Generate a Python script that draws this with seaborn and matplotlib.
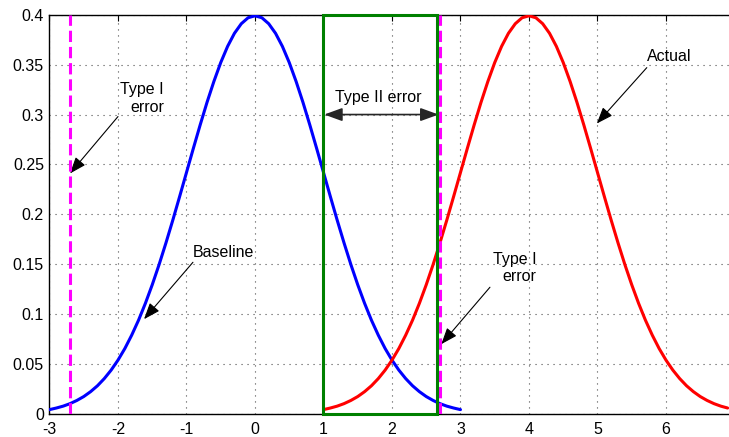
import matplotlib
matplotlib.use("Agg")
import matplotlib.pyplot as plt
from matplotlib.patches import Rectangle
import pandas as pd
import seaborn as sns

# --- data ---
baseline_x = [-3.0, -2.9, -2.8, -2.7, -2.6, -2.5, -2.4, -2.3, -2.2, -2.1,
              -2.0, -1.9, -1.8, -1.7, -1.6, -1.5, -1.4, -1.3, -1.2, -1.1,
              -1.0, -0.9, -0.8, -0.7, -0.6, -0.5, -0.4, -0.3, -0.2, -0.1,
              0.0, 0.1, 0.2, 0.3, 0.4, 0.5, 0.6, 0.7, 0.8, 0.9,
              1.0, 1.1, 1.2, 1.3, 1.4, 1.5, 1.6, 1.7, 1.8, 1.9,
              2.0, 2.1, 2.2, 2.3, 2.4, 2.5, 2.6, 2.7, 2.8, 2.9, 3.0]
baseline_y = [0.0044, 0.0060, 0.0079, 0.0104, 0.0136, 0.0175, 0.0224, 0.0283, 0.0355, 0.0440,
              0.0540, 0.0656, 0.0790, 0.0940, 0.1109, 0.1295, 0.1497, 0.1714, 0.1942, 0.2179,
              0.2420, 0.2661, 0.2897, 0.3123, 0.3332, 0.3521, 0.3683, 0.3814, 0.3910, 0.3970,
              0.3989, 0.3970, 0.3910, 0.3814, 0.3683, 0.3521, 0.3332, 0.3123, 0.2897, 0.2661,
              0.2420, 0.2179, 0.1942, 0.1714, 0.1497, 0.1295, 0.1109, 0.0940, 0.0790, 0.0656,
              0.0540, 0.0440, 0.0355, 0.0283, 0.0224, 0.0175, 0.0136, 0.0104, 0.0079, 0.0060, 0.0044]

actual_x = [1.0, 1.1, 1.2, 1.3, 1.4, 1.5, 1.6, 1.7, 1.8, 1.9,
            2.0, 2.1, 2.2, 2.3, 2.4, 2.5, 2.6, 2.7, 2.8, 2.9,
            3.0, 3.1, 3.2, 3.3, 3.4, 3.5, 3.6, 3.7, 3.8, 3.9,
            4.0, 4.1, 4.2, 4.3, 4.4, 4.5, 4.6, 4.7, 4.8, 4.9,
            5.0, 5.1, 5.2, 5.3, 5.4, 5.5, 5.6, 5.7, 5.8, 5.9,
            6.0, 6.1, 6.2, 6.3, 6.4, 6.5, 6.6, 6.7, 6.8, 6.9]
actual_y = [0.0044, 0.0060, 0.0079, 0.0104, 0.0136, 0.0175, 0.0224, 0.0283, 0.0355, 0.0440,
            0.0540, 0.0656, 0.0790, 0.0940, 0.1109, 0.1295, 0.1497, 0.1714, 0.1942, 0.2179,
            0.2420, 0.2661, 0.2897, 0.3123, 0.3332, 0.3521, 0.3683, 0.3814, 0.3910, 0.3970,
            0.3989, 0.3970, 0.3910, 0.3814, 0.3683, 0.3521, 0.3332, 0.3123, 0.2897, 0.2661,
            0.2420, 0.2179, 0.1942, 0.1714, 0.1497, 0.1295, 0.1109, 0.0940, 0.0790, 0.0656,
            0.0540, 0.0440, 0.0355, 0.0283, 0.0224, 0.0175, 0.0136, 0.0104, 0.0079, 0.0060]

thresholds = [-2.7, 2.7]          # type I error cut-offs (dashed magenta)
box_left, box_right = 1.0, 2.66   # type II error region
box_top = 0.4

x_ticks = [-3, -2, -1, 0, 1, 2, 3, 4, 5, 6]
y_ticks = [0, 0.05, 0.1, 0.15, 0.2, 0.25, 0.3, 0.35, 0.4]
y_tick_labels = ["0", "0.05", "0.1", "0.15", "0.2", "0.25", "0.3", "0.35", "0.4"]

# --- style ---
sns.set_style("white")
plt.rcParams['font.family'] = ['Liberation Sans', 'DejaVu Sans']
plt.rcParams['axes.unicode_minus'] = False
plt.rcParams['text.color'] = 'black'
FS = 11.5

fig = plt.figure(figsize=(7.29, 4.37), dpi=100)
ax = fig.add_axes([0.0679, 0.0526, 0.9321, 0.9137])

df_base = pd.DataFrame({"x": baseline_x, "y": baseline_y})
df_act = pd.DataFrame({"x": actual_x, "y": actual_y})

sns.lineplot(data=df_base, x="x", y="y", color="blue", lw=2.2,
             sort=False, estimator=None, ax=ax, zorder=3)
sns.lineplot(data=df_act, x="x", y="y", color="red", lw=2.2,
             sort=False, estimator=None, ax=ax, zorder=3)

for t in thresholds:
    ax.axvline(t, color="#ff00ff", lw=2.2, ls="--", zorder=4)

ax.add_patch(Rectangle((box_left, 0), box_right - box_left, box_top,
                       fill=False, edgecolor="green", lw=2.2, zorder=5,
                       clip_on=False))

# annotations
arrow_kw = dict(arrowstyle="-|>,head_length=1.0,head_width=0.38",
                color="black", lw=0.8, shrinkA=0, shrinkB=0)
ax.text(-1.65, 0.316, "Type I\nerror", fontsize=FS, ha="center", va="center",
        multialignment="right", color="black")
ax.annotate("", xy=(-2.70, 0.241), xytext=(-2.0, 0.298),
            arrowprops=arrow_kw, annotation_clip=False)

ax.text(1.80, 0.317, "Type II error", fontsize=FS, ha="center", va="center",
        color="black")
ax.annotate("", xy=(1.01, 0.3), xytext=(2.68, 0.3),
            arrowprops=dict(arrowstyle="<|-|>,head_length=1.1,head_width=0.4",
                            color="0.15", lw=1.2, shrinkA=0, shrinkB=0))

ax.text(-0.91, 0.162, "Baseline", fontsize=FS, ha="left", va="center",
        color="black")
ax.annotate("", xy=(-1.62, 0.095), xytext=(-0.906, 0.152), arrowprops=arrow_kw)

ax.text(3.79, 0.1464, "Type I\nerror", fontsize=FS, ha="center", va="center",
        multialignment="right", color="black")
ax.annotate("", xy=(2.72, 0.070), xytext=(3.43, 0.127), arrowprops=arrow_kw)

ax.text(5.72, 0.358, "Actual", fontsize=FS, ha="left", va="center",
        color="black")
ax.annotate("", xy=(4.99, 0.291), xytext=(5.72, 0.347), arrowprops=arrow_kw)

# axes, MATLAB-like look
ax.set_xlim(-3, 6.92)
ax.set_ylim(0, 0.4)
ax.set_xticks(x_ticks)
ax.set_yticks(y_ticks)
ax.set_yticklabels(y_tick_labels)
ax.set_xlabel("")
ax.set_ylabel("")
ax.grid(True, color="0.3", lw=0.8, ls=(0, (1, 4.4)))
ax.set_axisbelow(True)
ax.tick_params(axis="both", direction="in", length=4, width=0.8,
               labelsize=FS, colors="black", top=True, right=False)
ax.tick_params(axis="x", pad=6)
ax.tick_params(axis="y", pad=4)
for side in ["left", "bottom", "top"]:
    ax.spines[side].set_color("black")
    ax.spines[side].set_linewidth(1.0)
ax.spines["right"].set_visible(False)

plt.savefig("out.png", dpi=100)
